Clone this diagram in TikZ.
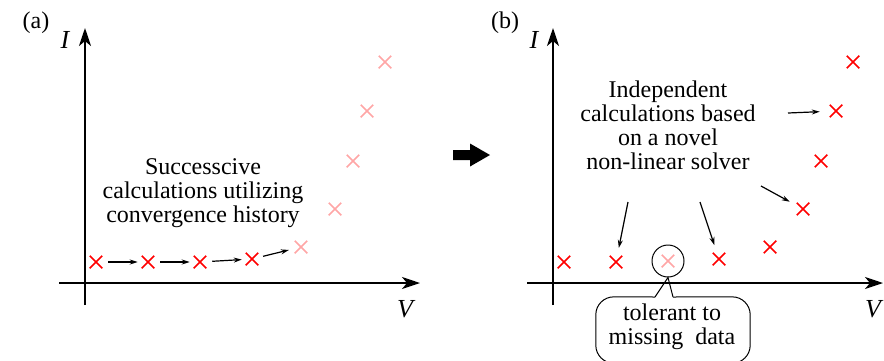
\documentclass[tikz,border=0pt]{standalone}
\usepackage{fontspec}
\setmainfont{Liberation Serif}
\usetikzlibrary{arrows.meta,shapes.misc}

\begin{document}
\begin{tikzpicture}[
  x=1pt, y=-1pt,
  font=\fontsize{24}{24}\selectfont,
  pt/.style={cross out, draw=red, line width=1.5pt, minimum size=11pt, inner sep=0pt},
  ptfade/.style={pt, draw=red!35},
  axis/.style={line width=2pt, -{Stealth[length=18pt, width=12pt, inset=5pt]}},
  arr/.style={line width=1.2pt, -{Stealth[length=8pt, width=5pt]}},
  lbl/.style={inner sep=0pt, anchor=base},
  axlbl/.style={lbl, font=\fontsize{26}{26}\selectfont\itshape},
  txt/.style={lbl, align=center}
]
\useasboundingbox (0,0) rectangle (884,360);

% panel (a)
\node[lbl] (tagA) at (36,28) {(a)};
\draw[axis] (85,305) -- (85,28);
\draw[axis] (59,283) -- (420,283);
\node[axlbl] (IA) at (65,48) {I};
\node[axlbl] (VA) at (405,317) {V};

\node[pt] (a1) at (96,262) {};
\node[pt] (a2) at (148,262) {};
\node[pt] (a3) at (200,262) {};
\node[pt] (a4) at (252,259) {};
\node[ptfade] (a5) at (301,247) {};
\node[ptfade] (a6) at (335,209) {};
\node[ptfade] (a7) at (353,161) {};
\node[ptfade] (a8) at (367,111) {};
\node[ptfade] (a9) at (385,62) {};

\draw[arr, shorten <=6pt, shorten >=4pt] (a1) -- (a2);
\draw[arr, shorten <=6pt, shorten >=4pt] (a2) -- (a3);
\draw[arr, shorten <=6pt, shorten >=4pt] (a3) -- (a4);
\draw[arr, shorten <=5pt, shorten >=6pt] (a4) -- (a5);

\node[txt] (noteA) at (203,222) {Successcive\\ calculations utilizing\\ convergence history};

% transition arrow
\fill (453,150) -- (470,150) -- (470,143.5) -- (490,155) -- (470,166.5) -- (470,160) -- (453,160) -- cycle;

% panel (b)
\node[lbl] (tagB) at (505,28) {(b)};
\draw[axis] (553,305) -- (553,28);
\draw[axis] (527,283) -- (883,283);
\node[axlbl] (IB) at (534,48) {I};
\node[axlbl] (VB) at (873,317) {V};

\node[pt] (b1) at (564,262) {};
\node[pt] (b2) at (616,262) {};
\node[ptfade] (b3) at (668,261) {};
\node[pt] (b4) at (719,259) {};
\node[pt] (b5) at (770,247) {};
\node[pt] (b6) at (803,209) {};
\node[pt] (b7) at (821,161) {};
\node[pt] (b8) at (836,111) {};
\node[pt] (b9) at (853,62) {};
\node[circle, draw, line width=1pt, minimum size=32pt, inner sep=0pt] (miss) at (b3) {};

\node[txt] (noteB) at (668,169) {Independent\\ calculations based\\ on a novel\\ non-linear solver};
\coordinate (s1) at (628,202);
\coordinate (s2) at (700,202);
\coordinate (s3) at (761,186);
\coordinate (s4) at (788,113);
\draw[arr, shorten >=8pt] (s1) -- (b2);
\draw[arr, shorten >=8pt] (s2) -- (b4);
\draw[arr, shorten >=8pt] (s3) -- (b6);
\draw[arr, shorten >=10pt] (s4) -- (b8);

% callout
\node[inner sep=0pt, minimum width=154pt, minimum height=66pt] (tol) at (673,330) {};
\node[txt] (tolTxt) at (672,344) {tolerant to\\ missing~ data};
\coordinate (pL) at (655,297);
\coordinate (pR) at (673,297);
\draw[line width=1pt, rounded corners=18pt] (pL) -- (tol.north west) -- (tol.south west) -- (tol.south east) -- (tol.north east) -- (pR);
\draw[line width=1pt] (pL) -- (miss.south) -- (pR);
\end{tikzpicture}
\end{document}
